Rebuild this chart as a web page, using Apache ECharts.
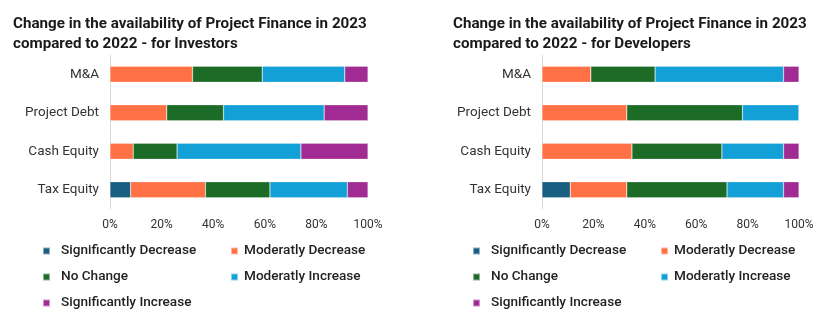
<!DOCTYPE html>
<html><head><meta charset="utf-8">
<script src="https://cdn.jsdelivr.net/npm/echarts@6/dist/echarts.min.js"></script>
<style>html,body{margin:0;padding:0;background:#fff}#c{width:830px;height:323px}</style>
</head><body><div id="c"></div>
<script>
const categories = ['M&A', 'Project Debt', 'Cash Equity', 'Tax Equity'];
const seriesNames = ['Significantly Decrease', 'Moderatly Decrease', 'No Change', 'Moderatly Increase', 'Significantly Increase'];
const tickLabels = ['0%', '20%', '40%', '60%', '80%', '100%'];
const titleInvestors = 'Change in the availability of Project Finance in 2023\ncompared to 2022 - for Investors';
const titleDevelopers = 'Change in the availability of Project Finance in 2023\ncompared to 2022 - for Developers';
// Investors (order: M&A, Project Debt, Cash Equity, Tax Equity)
const invSigDec = [0, 0, 0, 8];
const invModDec = [32, 22, 9, 29];
const invNoChange = [27, 22, 17, 25];
const invModInc = [32, 39, 48, 30];
const invSigInc = [9, 17, 26, 8];
// Developers
const devSigDec = [0, 0, 0, 11];
const devModDec = [19, 33, 35, 22];
const devNoChange = [25, 45, 35, 39];
const devModInc = [50, 22, 24, 22];
const devSigInc = [6, 0, 6, 6];

const colors = ['#175e80', '#ff7145', '#1c6b26', '#13a0d7', '#a02b93'];
const FONT = 'Roboto';
const inv = [invSigDec, invModDec, invNoChange, invModInc, invSigInc];
const dev = [devSigDec, devModDec, devNoChange, devModInc, devSigInc];

function axesFor(i) {
  return {
    x: {type: 'value', gridIndex: i, min: 0, max: 100, interval: 20,
      axisLine: {show: false}, axisTick: {show: false}, splitLine: {show: false},
      axisLabel: {formatter: v => tickLabels[v / 20], fontFamily: FONT, fontSize: 12, color: '#333', margin: 10}},
    y: {type: 'category', gridIndex: i, data: categories, inverse: true,
      axisLine: {show: true, lineStyle: {color: '#d9d9d9', width: 1}}, axisTick: {show: false},
      axisLabel: {fontFamily: FONT, fontSize: 13.5, color: '#333', margin: 11}}
  };
}
const a0 = axesFor(0), a1 = axesFor(1);
const series = [];
[inv, dev].forEach((set, gi) => {
  set.forEach((vals, si) => {
    series.push({name: seriesNames[si], type: 'bar', stack: 's' + gi, xAxisIndex: gi, yAxisIndex: gi,
      barWidth: 16, data: vals, itemStyle: {color: colors[si], borderColor: 'rgba(255,255,255,0.5)', borderWidth: 0.5},
      emphasis: {disabled: true}});
  });
});

const legendPos = [
  [[42, 244], [230, 244], [42, 270], [230, 270], [42, 296]],
  [[472, 244], [660, 244], [472, 270], [660, 270], [472, 296]]
];
const legends = [];
legendPos.forEach((pos, gi) => {
  pos.forEach((p, si) => {
    legends.push({data: [seriesNames[si]], left: p[0], top: p[1], padding: 0,
      icon: 'rect', itemWidth: 7, itemHeight: 7,
      textStyle: {fontFamily: FONT, fontSize: 13.6, fontWeight: 500, color: '#222', padding: [0, 0, 0, si % 2 === 0 ? 6 : 1]},
      selectedMode: false});
  });
});

const chart = echarts.init(document.getElementById('c'), null, {renderer: 'canvas'});
chart.setOption({
  animation: false,
  color: colors,
  title: [
    {text: titleInvestors, left: 8, top: 9, textStyle: {fontFamily: FONT, fontSize: 15.2, fontWeight: 'bold', color: '#1a1a1a', lineHeight: 20}},
    {text: titleDevelopers, left: 448, top: 9, textStyle: {fontFamily: FONT, fontSize: 15.2, fontWeight: 'bold', color: '#1a1a1a', lineHeight: 20}}
  ],
  grid: [
    {left: 110, top: 55, width: 258, height: 154},
    {left: 542, top: 55, width: 257, height: 154}
  ],
  xAxis: [a0.x, a1.x],
  yAxis: [a0.y, a1.y],
  legend: legends,
  series: series
});
</script></body></html>
